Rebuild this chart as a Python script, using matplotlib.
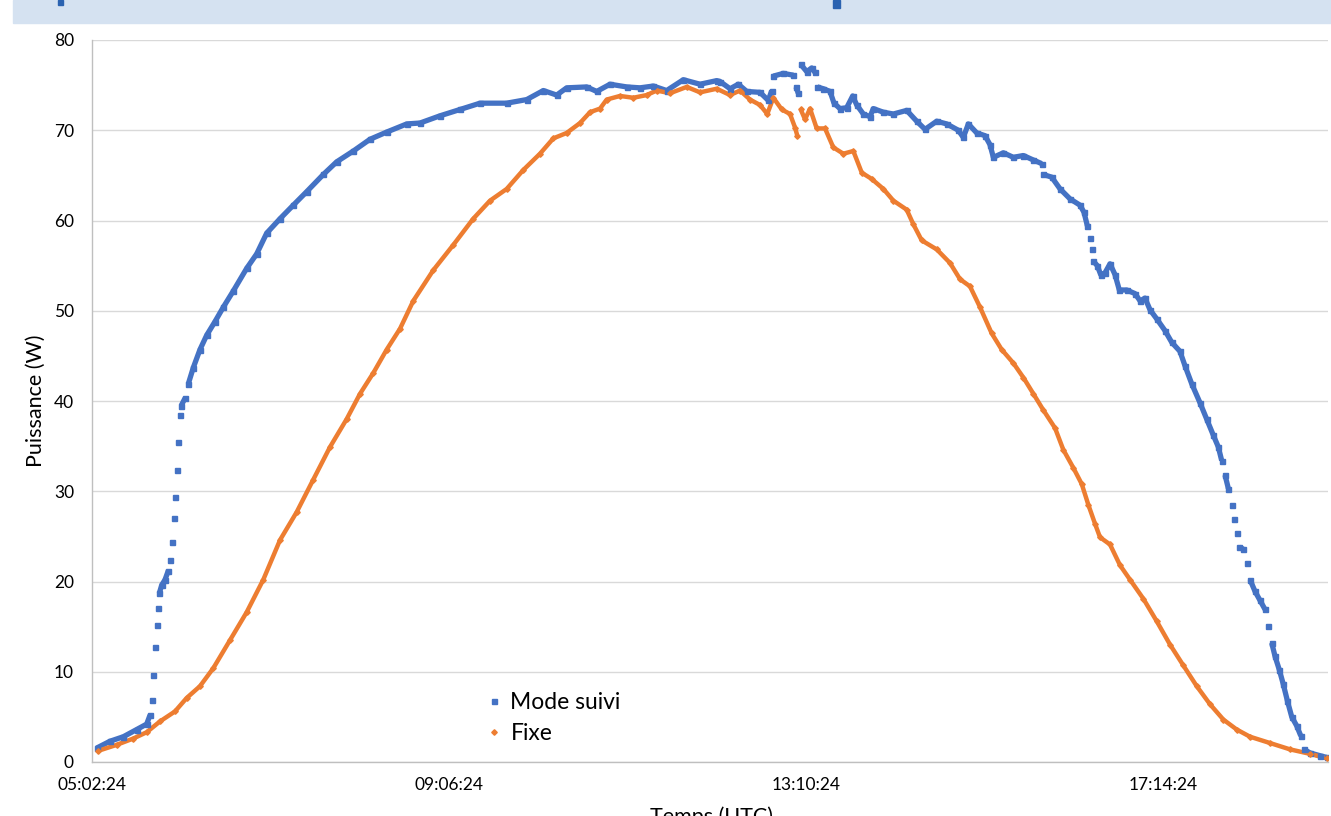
import numpy as np
import matplotlib
matplotlib.use("Agg")
import matplotlib.pyplot as plt
from matplotlib.patches import Rectangle
from matplotlib.ticker import FixedLocator, FuncFormatter

plt.rcParams['font.family'] = ['Lato', 'DejaVu Sans']

# heures decimales (UTC) et puissance (W)
suivi_t = [5.094, 5.245, 5.397, 5.549, 5.663, 5.701, 5.720, 5.738, 5.758, 5.777,
           5.792, 5.807, 5.834, 5.872, 5.909, 5.929, 5.951, 5.974, 5.989, 6.005,
           6.023, 6.042, 6.057, 6.099, 6.137, 6.194, 6.270, 6.347, 6.441, 6.536,
           6.650, 6.802, 6.916, 7.030, 7.182, 7.333, 7.486, 7.675, 7.827, 8.017,
           8.207, 8.397, 8.625, 8.776, 9.004, 9.232, 9.460, 9.764, 9.992, 10.181,
           10.333, 10.447, 10.675, 10.789, 10.941, 11.131, 11.282, 11.434, 11.586, 11.776,
           11.966, 12.156, 12.194, 12.308, 12.402, 12.498, 12.649, 12.744, 12.782, 12.801,
           12.915, 13.029, 13.059, 13.085, 13.113, 13.181, 13.238, 13.276, 13.302, 13.370,
           13.447, 13.492, 13.560, 13.637, 13.705, 13.751, 13.826, 13.902, 13.940, 14.054,
           14.168, 14.320, 14.434, 14.529, 14.662, 14.776, 14.908, 14.965, 15.022, 15.118,
           15.212, 15.269, 15.307, 15.421, 15.535, 15.649, 15.763, 15.858, 15.876, 15.972,
           16.067, 16.180, 16.294, 16.340, 16.378, 16.408, 16.428, 16.446, 16.491, 16.530,
           16.579, 16.636, 16.693, 16.742, 16.826, 16.921, 16.978, 17.035, 17.092, 17.168,
           17.262, 17.339, 17.433, 17.490, 17.567, 17.661, 17.737, 17.813, 17.870, 17.908,
           17.946, 17.984, 18.022, 18.048, 18.079, 18.109, 18.154, 18.193, 18.231, 18.288,
           18.345, 18.402, 18.439, 18.478, 18.516, 18.565, 18.610, 18.656, 18.706, 18.763,
           18.809, 18.846, 18.915, 19.028, 19.105]
suivi_p = [1.55, 2.3, 2.8, 3.6, 4.2, 5.2, 6.9, 9.6, 12.7, 15.2,
           17.1, 18.7, 19.6, 20.2, 21.2, 22.4, 24.4, 27.0, 29.4, 32.3,
           35.5, 38.5, 39.5, 40.3, 41.9, 43.7, 45.7, 47.3, 48.8, 50.4,
           52.2, 54.7, 56.3, 58.6, 60.2, 61.7, 63.2, 65.1, 66.5, 67.7,
           69.0, 69.8, 70.7, 70.8, 71.6, 72.3, 73.0, 73.0, 73.4, 74.4,
           73.9, 74.7, 74.8, 74.3, 75.1, 74.8, 74.7, 74.9, 74.4, 75.6,
           75.1, 75.5, 75.4, 74.6, 75.1, 74.3, 74.2, 73.3, 74.4, 76.0,
           76.3, 76.1, 74.8, 74.1, 77.3, 76.5, 76.9, 76.4, 74.8, 74.6,
           74.3, 73.0, 72.4, 72.5, 73.8, 72.8, 71.8, 71.5, 72.4, 72.0,
           71.8, 72.2, 71.0, 70.1, 71.0, 70.7, 70.0, 69.2, 70.7, 69.7,
           69.4, 68.4, 67.0, 67.5, 67.0, 67.2, 66.7, 66.3, 65.1, 64.8,
           63.5, 62.4, 61.7, 60.9, 59.4, 58.1, 56.8, 55.5, 55.0, 54.0,
           54.2, 55.2, 54.0, 52.3, 52.3, 51.9, 51.1, 51.4, 50.1, 49.1,
           47.8, 46.5, 45.5, 43.9, 41.9, 39.8, 38.0, 36.2, 34.9, 33.4,
           31.8, 30.3, 28.5, 26.9, 25.4, 23.8, 23.6, 22.0, 20.2, 18.9,
           17.9, 16.9, 15.1, 13.2, 11.7, 10.2, 8.6, 6.8, 5.0, 4.0,
           2.9, 1.4, 1.0, 0.7, 0.5]

fixe_t = [5.112, 5.321, 5.510, 5.663, 5.815, 5.985, 6.119, 6.270, 6.422, 6.612,
          6.802, 6.991, 7.182, 7.372, 7.561, 7.751, 7.941, 8.093, 8.244, 8.397,
          8.548, 8.700, 8.928, 9.156, 9.383, 9.574, 9.764, 9.953, 10.143, 10.295,
          10.447, 10.599, 10.713, 10.827, 10.903, 11.054, 11.206, 11.359, 11.472, 11.624,
          11.814, 11.966, 12.156, 12.308, 12.421, 12.535, 12.649, 12.732, 12.801, 12.897,
          12.991, 13.048, 13.074, 13.113, 13.162, 13.219, 13.295, 13.390, 13.484, 13.598,
          13.712, 13.808, 13.922, 14.054, 14.168, 14.320, 14.395, 14.491, 14.662, 14.813,
          14.927, 15.041, 15.155, 15.288, 15.402, 15.535, 15.649, 15.763, 15.876, 16.010,
          16.104, 16.218, 16.314, 16.389, 16.465, 16.522, 16.636, 16.750, 16.864, 17.015,
          17.168, 17.320, 17.471, 17.624, 17.775, 17.927, 18.079, 18.231, 18.459, 18.686,
          18.915, 19.105]
fixe_p = [1.24, 1.9, 2.6, 3.3, 4.5, 5.6, 7.1, 8.4, 10.4, 13.5,
          16.6, 20.2, 24.6, 27.7, 31.3, 34.9, 38.0, 40.8, 43.1, 45.7,
          48.0, 51.1, 54.5, 57.3, 60.2, 62.2, 63.5, 65.6, 67.4, 69.1,
          69.7, 70.8, 72.0, 72.4, 73.4, 73.8, 73.6, 73.9, 74.4, 74.1,
          74.8, 74.2, 74.6, 73.9, 74.4, 73.4, 72.8, 71.8, 73.6, 72.3,
          71.8, 70.3, 69.4, 72.3, 71.2, 72.4, 70.2, 70.2, 68.1, 67.4,
          67.7, 65.3, 64.6, 63.5, 62.2, 61.2, 59.6, 57.8, 56.8, 55.3,
          53.5, 52.7, 50.4, 47.5, 45.7, 44.2, 42.6, 40.8, 39.0, 37.0,
          34.6, 32.6, 30.8, 28.5, 26.4, 24.9, 24.1, 21.8, 20.2, 18.1,
          15.6, 13.0, 10.7, 8.4, 6.4, 4.7, 3.6, 2.8, 2.1, 1.4,
          0.9, 0.4]

tick_hours = [5.04, 9.10667, 13.17333, 17.24]

BLUE = '#4472C4'
ORANGE = '#ED7D31'


def hms(x, pos=None):
    s = int(round(x * 3600))
    return '%02d:%02d:%02d' % (s // 3600, (s % 3600) // 60, s % 60)


def draw_series(ax, t, p, color, lw, marker, ms, label):
    t = np.asarray(t)
    p = np.asarray(p)
    # relier seulement les points proches (la ou les mesures se touchent)
    slope = np.abs(np.diff(p) / np.diff(t))
    start = 0
    for i, s in enumerate(slope):
        if s > 40:
            if i > start:
                ax.plot(t[start:i + 1], p[start:i + 1], color=color, lw=lw,
                        solid_capstyle='butt', zorder=3)
            start = i + 1
    if len(t) - 1 > start:
        ax.plot(t[start:], p[start:], color=color, lw=lw,
                solid_capstyle='butt', zorder=3)
    ax.plot(t, p, ls='none', marker=marker, ms=ms, color=color,
            mec=color, zorder=4, label=label)


fig = plt.figure(figsize=(13.31, 8.16), dpi=100)
ax = fig.add_axes([92 / 1331, 54 / 816, 1236 / 1331, 722 / 816])

# bandeau du haut (titre coupe)
fig.patches.append(Rectangle((13 / 1331, 1 - 23 / 816), 1 - 13 / 1331, 23 / 816,
                             transform=fig.transFigure, color='#D5E2F1', zorder=0))
fig.patches.append(Rectangle((833 / 1331, 1 - 8 / 816), 7 / 1331, 8 / 816,
                             transform=fig.transFigure, color='#2A62B0', zorder=1))
fig.patches.append(Rectangle((58 / 1331, 1 - 5 / 816), 5 / 1331, 5 / 816,
                             transform=fig.transFigure, color='#2A62B0', zorder=1))

draw_series(ax, suivi_t, suivi_p, BLUE, 3.8, 's', 3.6, 'Mode suivi')
draw_series(ax, fixe_t, fixe_p, ORANGE, 3.2, 'D', 2.8, 'Fixe')

ax.set_xlim(5.04, 19.119)
ax.set_ylim(0, 80)
ax.set_yticks(range(0, 81, 10))
ax.xaxis.set_major_locator(FixedLocator(tick_hours))
ax.xaxis.set_major_formatter(FuncFormatter(hms))
ax.tick_params(axis='both', length=0, labelsize=12.5, colors='black')
ax.tick_params(axis='x', pad=11)
ax.tick_params(axis='y', pad=13)
ax.grid(axis='y', color='#D9D9D9', lw=1)
ax.set_axisbelow(True)
for side in ['top', 'right']:
    ax.spines[side].set_visible(False)
for side in ['left', 'bottom']:
    ax.spines[side].set_color('#BFBFBF')
    ax.spines[side].set_linewidth(1)

ax.set_ylabel('Puissance (W)', fontsize=15.5, labelpad=6)
fig.text(712 / 1331, 1 - 806 / 816, 'Temps (UTC)', fontsize=15.5,
         ha='center', va='top')

leg = ax.legend(loc='upper left', bbox_to_anchor=(468 / 1331, 1 - 671 / 816),
                bbox_transform=fig.transFigure, frameon=False, fontsize=16.5,
                handlelength=0.5, handletextpad=0.45, labelspacing=0.45,
                markerscale=1.0)

fig.savefig('out.png', dpi=100)
